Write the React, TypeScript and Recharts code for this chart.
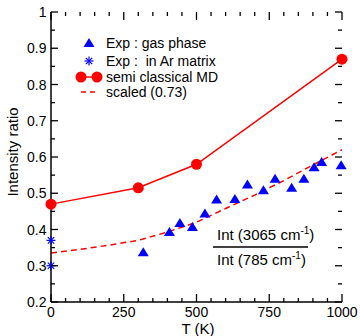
import { ComposedChart, Line, Scatter, XAxis, YAxis, Customized } from 'recharts';

// semi classical MD
const mdTemps = [0, 300, 500, 1000];
const mdRatio = [0.47, 0.515, 0.58, 0.87];

// scaled (0.73)
const scaledTemps = [0, 100, 200, 300, 400, 500, 600, 700, 800, 900, 1000];
const scaledRatio = [0.335, 0.345, 0.357, 0.37, 0.393, 0.42, 0.458, 0.495, 0.535, 0.578, 0.62];

// Exp : gas phase
const gasTemps = [317, 407, 443, 486, 529, 569, 632, 675, 730, 770, 827, 869, 904, 930, 997];
const gasRatio = [0.337, 0.393, 0.418, 0.407, 0.444, 0.483, 0.484, 0.524, 0.508, 0.54, 0.515, 0.54, 0.572, 0.586, 0.577];

// Exp : in Ar matrix
const matrixTemps = [0, 0];
const matrixRatio = [0.37, 0.3];

const xTicks = [0, 50, 100, 150, 200, 250, 300, 350, 400, 450, 500, 550, 600, 650, 700, 750, 800, 850, 900, 950, 1000];
const xLabels = [0, 250, 500, 750, 1000];
const yTicks = [0.2, 0.25, 0.3, 0.35, 0.4, 0.45, 0.5, 0.55, 0.6, 0.65, 0.7, 0.75, 0.8, 0.85, 0.9, 0.95, 1];
const yLabels = ['0.2', '0.3', '0.4', '0.5', '0.6', '0.7', '0.8', '0.9', '1'];

const W = 360;
const H = 336;
const margin = { top: 12, right: 18, left: 0, bottom: 0 };
const Y_AXIS_W = 51;
const X_AXIS_H = 34;
const LEFT = margin.left + Y_AXIS_W;
const RIGHT = W - margin.right;
const TOP = margin.top;
const BOTTOM = H - margin.bottom - X_AXIS_H;

const FONT = '"Liberation Sans", Arial, sans-serif';
const RED = '#ff0000';
const BLUE = '#0000ff';

const zip = (xs: number[], ys: number[]) => xs.map((t, i) => ({ t, ratio: ys[i] }));
const mdData = zip(mdTemps, mdRatio);
const scaledData = zip(scaledTemps, scaledRatio);
const gasData = zip(gasTemps, gasRatio);
const matrixData = zip(matrixTemps, matrixRatio);

const Triangle = ({ cx, cy }: any) => (
  <polygon points={`${cx},${cy - 5} ${cx + 5.5},${cy + 4} ${cx - 5.5},${cy + 4}`} fill={BLUE} />
);

const Star = ({ cx, cy }: any) => {
  const r = 4.5;
  const d = r * 0.707;
  return (
    <g stroke={BLUE} strokeWidth={1.2}>
      <line x1={cx - r} y1={cy} x2={cx + r} y2={cy} />
      <line x1={cx} y1={cy - r} x2={cx} y2={cy + r} />
      <line x1={cx - d} y1={cy - d} x2={cx + d} y2={cy + d} />
      <line x1={cx - d} y1={cy + d} x2={cx + d} y2={cy - d} />
    </g>
  );
};

const YTick = ({ y, payload }: any) => {
  const v = payload.value;
  const idx = yLabels.findIndex((l) => Math.abs(parseFloat(l) - v) < 1e-6);
  const major = idx >= 0;
  const len = major ? 7 : 4;
  return (
    <g>
      <line x1={LEFT} x2={LEFT + len} y1={y} y2={y} stroke="#000" strokeWidth={1.3} />
      <line x1={RIGHT} x2={RIGHT - len} y1={y} y2={y} stroke="#000" strokeWidth={1.3} />
      {major && (
        <text x={LEFT - 4.5} y={y} dy="0.36em" textAnchor="end" fontSize={14} fontFamily={FONT} fill="#000">
          {yLabels[idx]}
        </text>
      )}
    </g>
  );
};

const XTick = ({ x, payload }: any) => {
  const v = payload.value;
  const major = xLabels.includes(v);
  const len = major ? 8 : 4;
  return (
    <g>
      <line x1={x} x2={x} y1={BOTTOM} y2={BOTTOM - len} stroke="#000" strokeWidth={1.3} />
      <line x1={x} x2={x} y1={TOP} y2={TOP + len} stroke="#000" strokeWidth={1.3} />
      {major && (
        <text x={x} y={BOTTOM + 15} textAnchor="middle" fontSize={14} fontFamily={FONT} fill="#000">
          {v}
        </text>
      )}
    </g>
  );
};

const Overlay = () => (
  <g fontFamily={FONT} fill="#000">
    {/* axis titles */}
    <text x={13} y={152} transform="rotate(-90 13 152)" textAnchor="middle" dy="0.35em" fontSize={15}>
      Intensity ratio
    </text>
    <text x={198} y={329} textAnchor="middle" dy="0.35em" fontSize={15}>
      T (K)
    </text>

    {/* legend */}
    <Triangle cx={89} cy={43} />
    <text x={106} y={43} dy="0.35em" fontSize={14} style={{ whiteSpace: 'pre' }}>Exp : gas phase</text>
    <Star cx={89} cy={61} />
    <text x={106} y={61} dy="0.35em" fontSize={14} style={{ whiteSpace: 'pre' }}>Exp :  in Ar matrix</text>
    <line x1={81} x2={97} y1={77} y2={77} stroke={RED} strokeWidth={1.5} />
    <circle cx={81} cy={77} r={5.5} fill={RED} />
    <circle cx={97} cy={77} r={5.5} fill={RED} />
    <text x={106} y={77} dy="0.35em" fontSize={14}>semi classical MD</text>
    <line x1={81} x2={97} y1={92} y2={92} stroke={RED} strokeWidth={1.5} strokeDasharray="5 4" />
    <text x={106} y={92} dy="0.35em" fontSize={14}>scaled (0.73)</text>

    {/* ratio annotation */}
    <text x={217} y={235} dy="0.35em" fontSize={15}>
      Int (3065 cm<tspan dy={-6} fontSize={10}>-1</tspan><tspan dy={6}>)</tspan>
    </text>
    <line x1={213} x2={308} y1={247} y2={247} stroke="#000" strokeWidth={1.3} />
    <text x={217} y={260} dy="0.35em" fontSize={15}>
      Int (785 cm<tspan dy={-6} fontSize={10}>-1</tspan><tspan dy={6}>)</tspan>
    </text>
  </g>
);

export default function App() {
  return (
    <div style={{ position: 'absolute', left: 0, top: 0, width: W, height: H, background: '#fff' }}>
      <ComposedChart width={W} height={H} margin={margin}>
        <XAxis
          dataKey="t"
          type="number"
          domain={[0, 1000]}
          ticks={xTicks}
          interval={0}
          height={X_AXIS_H}
          tick={<XTick />}
          tickLine={false}
          axisLine={{ stroke: '#000', strokeWidth: 1.5 }}
        />
        <XAxis
          xAxisId="top"
          orientation="top"
          type="number"
          domain={[0, 1000]}
          height={0}
          tick={false}
          tickLine={false}
          axisLine={{ stroke: '#000', strokeWidth: 1.5 }}
        />
        <YAxis
          type="number"
          domain={[0.2, 1]}
          ticks={yTicks}
          interval={0}
          width={Y_AXIS_W}
          tick={<YTick />}
          tickLine={false}
          axisLine={{ stroke: '#000', strokeWidth: 1.5 }}
        />
        <YAxis
          yAxisId="right"
          orientation="right"
          type="number"
          domain={[0.2, 1]}
          width={0}
          tick={false}
          tickLine={false}
          axisLine={{ stroke: '#000', strokeWidth: 1.5 }}
        />
        <Line
          data={scaledData}
          dataKey="ratio"
          stroke={RED}
          strokeWidth={1.5}
          strokeDasharray="6 4"
          dot={false}
          isAnimationActive={false}
        />
        <Line
          data={mdData}
          dataKey="ratio"
          stroke={RED}
          strokeWidth={1.5}
          dot={{ r: 5.5, fill: RED, stroke: RED, strokeWidth: 0 }}
          isAnimationActive={false}
        />
        <Scatter data={gasData} dataKey="ratio" shape={<Triangle />} isAnimationActive={false} />
        <Scatter data={matrixData} dataKey="ratio" shape={<Star />} isAnimationActive={false} />
        <Customized component={Overlay} />
      </ComposedChart>
    </div>
  );
}
